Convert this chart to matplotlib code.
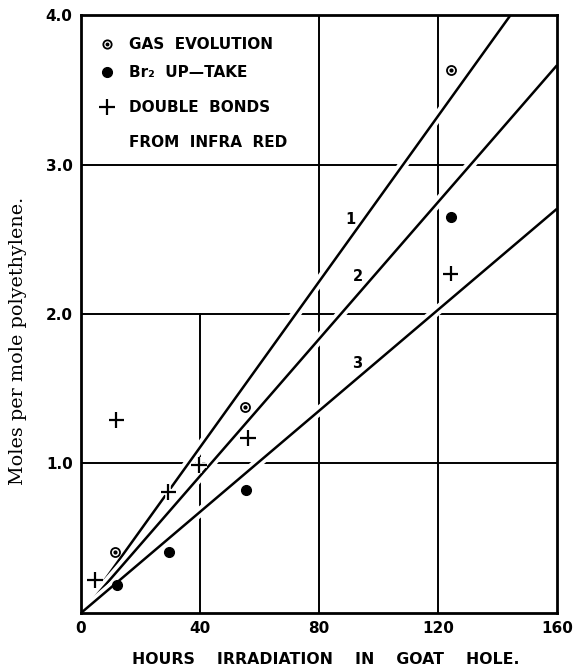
import numpy as np
import matplotlib.pyplot as plt
import matplotlib.patheffects as pe

# gas evolution points
gas_x = [11.4, 55.1, 124.3]
gas_y = [0.41, 1.38, 3.63]
# Br2 up-take points
br_x = [12.0, 29.6, 55.3, 124.3]
br_y = [0.19, 0.41, 0.82, 2.65]
# double bonds from infra red
db_x = [4.7, 11.9, 29.3, 39.7, 56.1, 124.3]
db_y = [0.22, 1.29, 0.81, 0.99, 1.17, 2.27]

# fitted straight lines through origin (slopes)
line_names = ["1", "2", "3"]
line_slopes = [0.0277, 0.0229, 0.0169]
label_x = [90.7, 93.0, 92.7]
label_y = [2.63, 2.25, 1.67]

xticks = [0, 40, 80, 120, 160]
yticks = [1.0, 2.0, 3.0, 4.0]
ytick_labels = ["1.0", "2.0", "3.0", "4.0"]

fig = plt.figure(figsize=(5.74, 6.7), dpi=100)
ax = fig.add_axes([0.1411, 0.0851, 0.8293, 0.8925])
ax.set_xlim(0, 160)
ax.set_ylim(0, 4.0)

# partial grid, as drawn on the original sheet
for yv in [1.0, 2.0, 3.0]:
    ax.plot([0, 160], [yv, yv], color="black", lw=1.4, zorder=1)
ax.plot([40, 40], [0, 2.0], color="black", lw=1.4, zorder=1)
for xv in [80, 120]:
    ax.plot([xv, xv], [0, 4.0], color="black", lw=1.4, zorder=1)

halo = [pe.Stroke(linewidth=7, foreground="white"), pe.Normal()]
xx = np.array([0, 160])
for name, s, lx, ly in zip(line_names, line_slopes, label_x, label_y):
    ax.plot(xx, s * xx, color="black", lw=1.8, zorder=2, path_effects=halo,
            solid_capstyle="butt")
    ax.text(lx, ly, name, fontsize=10.5, fontweight="bold", ha="center",
            va="center", zorder=4)

mhalo = [pe.Stroke(linewidth=4, foreground="white"), pe.Normal()]
ax.plot(gas_x, gas_y, "o", ms=6.5, mfc="white", mec="black", mew=1.3, zorder=3)
ax.plot(gas_x, gas_y, "o", ms=2, color="black", zorder=3)
ax.plot(br_x, br_y, "o", ms=7, color="black", zorder=3)
ax.plot(db_x, db_y, "+", ms=11, mew=1.6, color="black", zorder=3,
        path_effects=mhalo)

# legend drawn by hand
tr = ax.transAxes
ax.plot([0.054], [0.951], "o", ms=6, mfc="white", mec="black", mew=1.3, transform=tr)
ax.plot([0.054], [0.951], "o", ms=1.8, color="black", transform=tr)
ax.plot([0.054], [0.904], "o", ms=7, color="black", transform=tr)
ax.plot([0.054], [0.846], "+", ms=11, mew=1.6, color="black", transform=tr)
lg = dict(transform=tr, fontsize=11, fontweight="bold", va="center", ha="left")
ax.text(0.10, 0.951, "GAS  EVOLUTION", **lg)
ax.text(0.10, 0.904, "Br₂  UP\u2014TAKE", **lg)
ax.text(0.10, 0.846, "DOUBLE  BONDS", **lg)
ax.text(0.10, 0.787, "FROM  INFRA  RED", **lg)

ax.set_xticks(xticks)
ax.set_xticklabels([str(v) for v in xticks], fontsize=11, fontweight="bold")
ax.set_yticks(yticks)
ax.set_yticklabels(ytick_labels, fontsize=11, fontweight="bold")
ax.tick_params(length=0, pad=6)
for sp in ax.spines.values():
    sp.set_linewidth(2)

fig.text(0.567, 1 - 660 / 670, "HOURS    IRRADIATION    IN    GOAT    HOLE.",
         fontsize=11.3, fontweight="bold", ha="center", va="center")
fig.text(18 / 574, 1 - 341 / 670, "Moles per mole polyethylene.", fontsize=13.8,
         family="DejaVu Serif", rotation=90, ha="center", va="center")

fig.savefig("out.png", dpi=100)
